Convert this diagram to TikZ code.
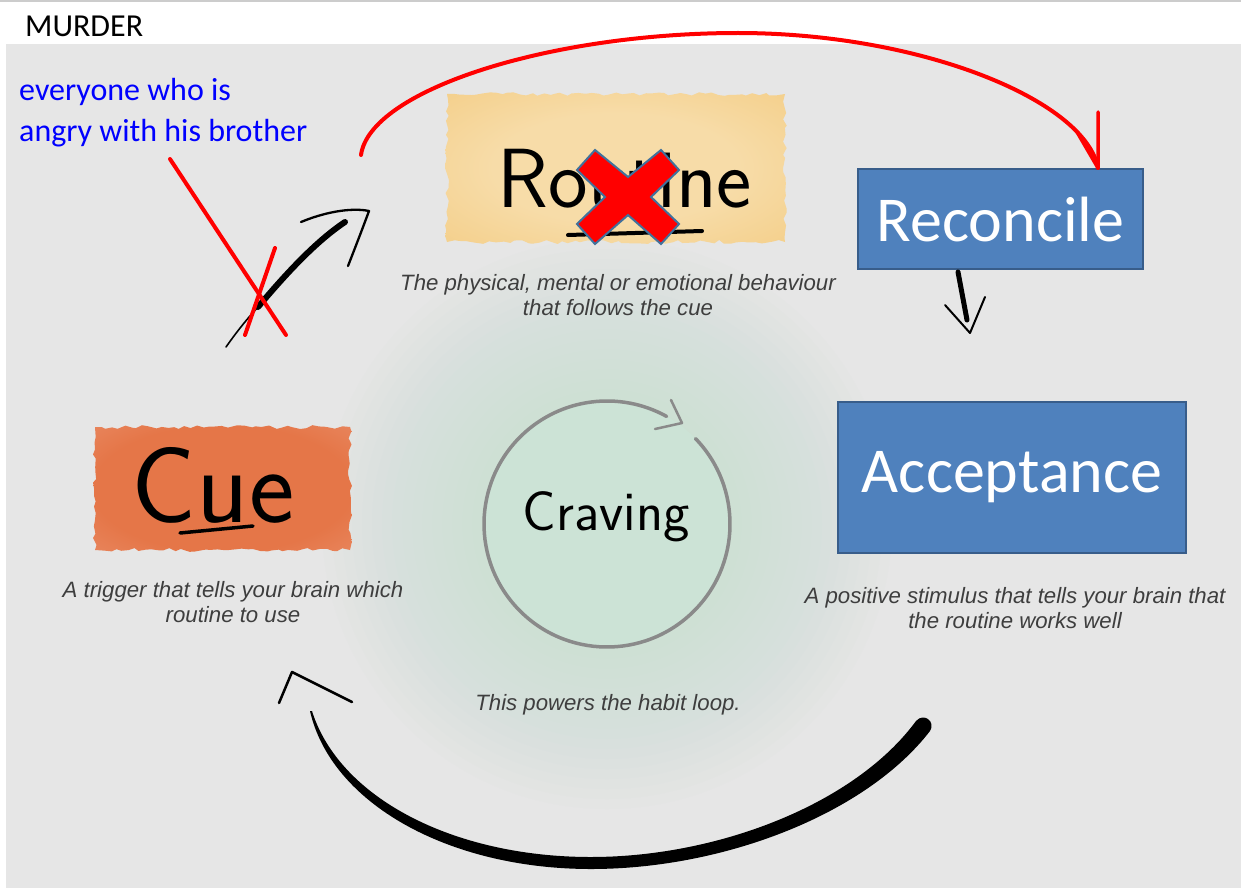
\documentclass[tikz,border=0pt]{standalone}
\usepackage{fontspec}
\usetikzlibrary{decorations.pathmorphing}
\newfontfamily\calfont{Carlito}
\newfontfamily\arifont{Liberation Sans}
\definecolor{bg}{RGB}{230,230,230}
\definecolor{glowin}{RGB}{196,224,208}
\definecolor{circfill}{RGB}{204,227,214}
\definecolor{routin}{RGB}{247,220,168}
\definecolor{routout}{RGB}{242,199,120}
\definecolor{cuein}{RGB}{229,118,72}
\definecolor{cueout}{RGB}{236,152,118}
\definecolor{boxblue}{RGB}{79,129,189}
\definecolor{boxborder}{RGB}{56,93,138}
\definecolor{xborder}{RGB}{65,113,156}
\definecolor{capgray}{RGB}{62,62,62}
\definecolor{circgray}{RGB}{138,138,138}
\pgfdeclareradialshading{routsh}{\pgfpoint{0bp}{0bp}}{color(0bp)=(routin); color(18bp)=(routin); color(48bp)=(routout); color(100bp)=(routout)}
\pgfdeclareradialshading{cuesh}{\pgfpoint{0bp}{0bp}}{color(0bp)=(cuein); color(25bp)=(cuein); color(50bp)=(cueout); color(100bp)=(cueout)}
\tikzset{
  boxnode/.style={fill=boxblue, draw=boxborder, line width=1.5, text=white, inner sep=0,
    font=\calfont\fontsize{64}{64}\selectfont},
  caption/.style={anchor=base, inner sep=0, text=capgray, font=\arifont\itshape\fontsize{22.2}{26}\selectfont},
  hand/.style={anchor=base, inner sep=0, text=black, font=\sffamily},
  redline/.style={red, line width=4, line cap=round, line join=round},
  inkline/.style={black, line cap=round, line join=round},
  blobedge/.style={decorate, decoration={random steps, segment length=6, amplitude=2}}
}
\begin{document}
\begin{tikzpicture}[x=1pt,y=-1pt]
\useasboundingbox (0,0) rectangle (1241,888);
\fill[white] (0,0) rectangle (1241,888);
\draw[black!20, line width=1.5] (0,1) -- (1241,1);
\fill[bg] (6,44) rectangle (1241,888);
% soft glow behind craving
\foreach \r in {125,135,...,285}
  \fill[glowin, opacity=0.05] (607,524) circle[radius=\r];

% title and blue note
\node[anchor=base west, inner sep=0, font=\calfont\fontsize{32}{32}\selectfont] (title) at (25,37) {MURDER};
\node[anchor=base west, inner sep=0, text=blue, font=\calfont\fontsize{32}{32}\selectfont] (note1) at (19,101) {everyone who is};
\node[anchor=base west, inner sep=0, text=blue, font=\calfont\fontsize{32}{32}\selectfont] (note2) at (19,142) {angry with his brother};

% routine blob
\pgfmathsetseed{11}
\shade[shading=routsh, blobedge] (447,94) -- (785,94) -- (785,242) -- (447,242) -- cycle;
\node[hand, font=\sffamily\fontsize{84}{84}\selectfont] (routine) at (625,207) {Routine};
\draw[inkline, line width=4] (568,235) -- (702,231);
% red X
\filldraw[fill=red, draw=xborder, line width=2, shift={(628,197)}]
  (-33,-47) -- (-51,-27) -- (-23,0) -- (-51,27) -- (-33,47) -- (0,18) -- (33,47)
  -- (51,27) -- (23,0) -- (51,-27) -- (33,-47) -- (0,-20) -- cycle;
\node[caption] (rcap1) at (618,290) {The physical, mental or emotional behaviour};
\node[caption] (rcap2) at (618,315) {that follows the cue};

% cue blob
\pgfmathsetseed{5}
\shade[shading=cuesh, blobedge] (95,427) -- (350,427) -- (350,550) -- (95,550) -- cycle;
\node[hand, font=\sffamily\fontsize{108}{108}\selectfont] (cue) at (213,522) {Cue};
\draw[inkline, line width=3.5] (180,533) -- (253,526);
\node[caption] (ccap1) at (233,597) {A trigger that tells your brain which};
\node[caption] (ccap2) at (233,622) {routine to use};

% craving circle
\fill[circfill] (607,524) circle[radius=123];
\draw[circgray, line width=3.5, line cap=round] (607,524) ++(-44:123) arc[start angle=-44, end angle=299, radius=123];
\draw[circgray, line width=2.5, line cap=round, line join=round] (671,400) -- (682,423) -- (655,429);
\node[hand, font=\sffamily\fontsize{56}{56}\selectfont] (craving) at (606,530) {Craving};
\node[caption] (pcap) at (608,710) {This powers the habit loop.};

% blue boxes
\node[boxnode, minimum width=285, minimum height=100] (rec) at (1000.5,219) {Reconcile};
\node[boxnode, minimum width=348, minimum height=151] (acc) at (1012,477.5) {Acceptance};
\node[caption] (acap1) at (1015,603) {A positive stimulus that tells your brain that};
\node[caption] (acap2) at (1015,628) {the routine works well};

% red crossed lines
\coordinate (c1a) at (170,159); \coordinate (c1b) at (286,335);
\coordinate (c2a) at (275,248); \coordinate (c2b) at (245,335);

% black arrow top-left
\coordinate (bs) at (226,347);
\coordinate (bt) at (369,211);
\draw[inkline, line width=1.6] (bs) .. controls (238,330) and (250,315) .. (262,303);
\draw[inkline, line width=6] (258,307) .. controls (285,275) and (315,242) .. (345,222);
\draw[inkline, line width=2.3] (301,222) .. controls (330,210) and (355,208) .. (bt)
  .. controls (362,230) and (355,248) .. (348,266);

\draw[redline] (c1a) -- (c1b);
\draw[redline] (c2a) -- (c2b);

% red arc to Reconcile
\coordinate (rs) at (361,155);
\coordinate (rt) at (1098,168);
\draw[redline] (rs) .. controls (370,90) and (550,33) .. (738,33) .. controls (920,33) and (1085,100) .. (rt);
\draw[redline, line width=3.5] (1098,112) -- (rt) -- (1077,132);

% Reconcile -> Acceptance
\coordinate (ra) at (958,272);
\coordinate (rb) at (970,333);
\draw[inkline, line width=5] (ra) -- (967,320);
\draw[inkline, line width=2] (945,305) -- (rb) -- (985,297);

% bottom arrow Acceptance -> Cue
\coordinate (bh) at (292,672);
\fill[black] (310,711) .. controls (331,803) and (448,869) .. (591,869)
  .. controls (724,869) and (866,814) .. (930,731)
  .. controls (936,722) and (924,712) .. (916,721)
  .. controls (855,804) and (718,857) .. (591,857)
  .. controls (452,857) and (339,797) .. (312,711) -- cycle;
\draw[inkline, line width=2.5] (279,703) -- (bh) -- (352,702);
\end{tikzpicture}
\end{document}
